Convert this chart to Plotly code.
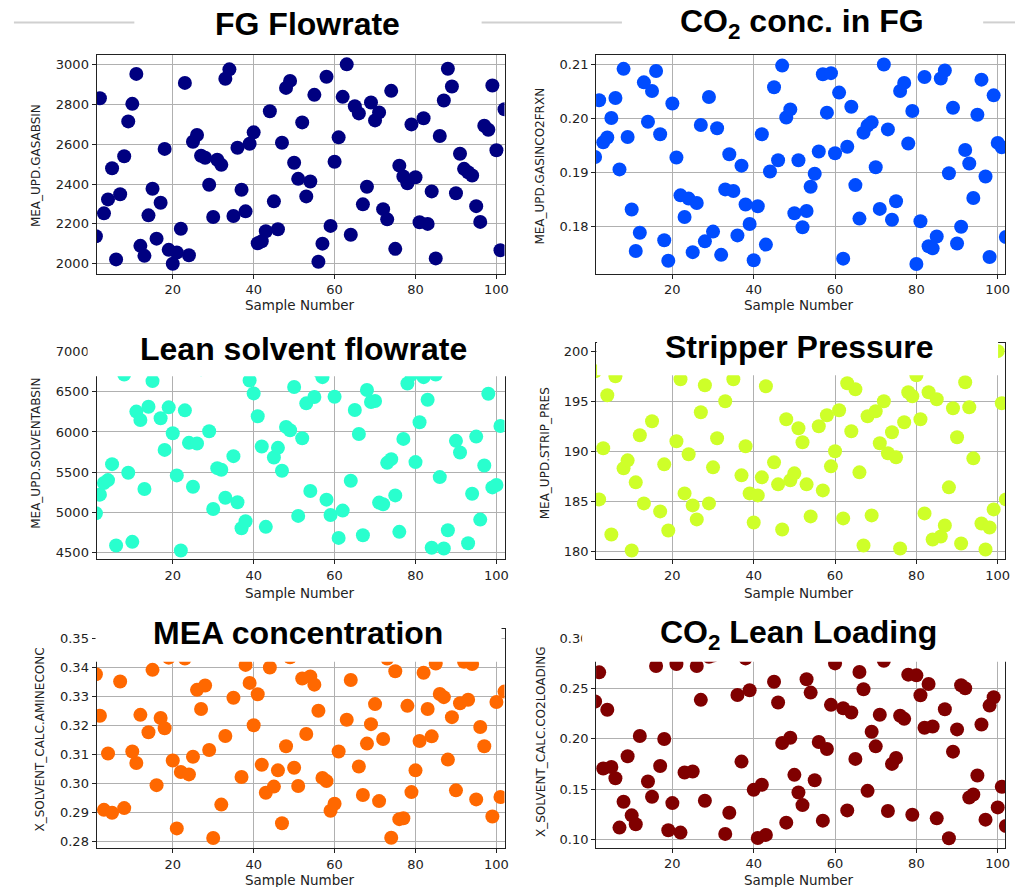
import plotly.graph_objects as go

W, H = 1020, 887

# ---------------- data ----------------
sample_number = list(range(1, 103))

fg_flowrate = [2138, 2830, 2253, 2323, 2479, 2022, 2349, 2539, 2714, 2802, 2952, 2090, 2040, 2243, 2376, 2126, 2306, 2576, 2070, 2000,
               2057, 2176, 2907, 2043, 2612, 2646, 2542, 2532, 2396, 2235, 2522, 2496, 2928, 2975, 2240, 2582, 2371, 2263, 2602, 2659,
               2103, 2113, 2163, 2765, 2313, 2173, 2607, 2882, 2917, 2507, 2426, 2709, 2338, 2413, 2847, 2010, 2101, 2938, 2190, 2512,
               2634, 2837, 3000, 2146, 2790, 2754, 2298, 2386, 2809, 2719, 2759, 2274, 2223, 2867, 2075, 2492, 2438, 2404, 2699, 2434,
               2208, 2730, 2200, 2363, 2027, 2641, 2819, 2978, 2889, 2354, 2552, 2476, 2459, 2443, 2289, 2210, 2692, 2672, 2894, 2569,
               2068, 2775]

co2_in_fg = [0.1929, 0.2034, 0.1956, 0.1965, 0.2001, 0.2038, 0.1906, 0.2092, 0.1966, 0.1832, 0.1755, 0.1789, 0.2067, 0.1994, 0.2051,
             0.2088, 0.1971, 0.1775, 0.1737, 0.2028, 0.1928, 0.1858, 0.1818, 0.1852, 0.1753, 0.1844, 0.1988, 0.1773, 0.2040, 0.1791,
             0.1982, 0.1748, 0.1869, 0.1934, 0.1866, 0.1784, 0.1913, 0.1841, 0.1805, 0.1738, 0.1838, 0.1971, 0.1767, 0.1902, 0.2058,
             0.1923, 0.2098, 0.2002, 0.2017, 0.1825, 0.1923, 0.1799, 0.1829, 0.1874, 0.1898, 0.1939, 0.2082, 0.2011, 0.2084, 0.1936,
             0.2048, 0.1741, 0.1948, 0.2022, 0.1877, 0.1815, 0.1974, 0.1987, 0.1993, 0.1910, 0.1833, 0.2100, 0.1980, 0.1813, 0.1847,
             0.2051, 0.2066, 0.1954, 0.2014, 0.1731, 0.1810, 0.2077, 0.1764, 0.1760, 0.1782, 0.2074, 0.2089, 0.1899, 0.2020, 0.1769,
             0.1800, 0.1942, 0.1917, 0.1853, 0.2007, 0.2072, 0.1893, 0.1744, 0.2043, 0.1955, 0.1947, 0.1781]

lean_solvent_flow = [4991, 5222, 5366, 5403, 5601, 4591, 6900, 6714, 5494, 4636, 6253, 6149, 5292, 6314, 6632, 6850, 6170, 5778, 6306, 5985,
                     5461, 4529, 6269, 5865, 5321, 5857, 6780, 6950, 6009, 5044, 5551, 5531, 5184, 6820, 5700, 5127, 4805, 4892, 6640, 6479,
                     6195, 5820, 4822, 6900, 5683, 5803, 5518, 6063, 6022, 6558, 4958, 5923, 6356, 5267, 6434, 6760, 6681, 5160, 4970, 6438,
                     4685, 5024, 6980, 5395, 6273, 5976, 4718, 6521, 6372, 6385, 5123, 5102, 5617, 5663, 5213, 4760, 5914, 6603, 6714, 5626,
                     6121, 6681, 6401, 4562, 6714, 5440, 4553, 4780, 6870, 5890, 5745, 6790, 4619, 5234, 5943, 4912, 5584, 6475, 5312, 5341,
                     6075, 6930]

stripper_pressure = [198.0, 185.2, 190.3, 195.6, 181.7, 197.5, 199.0, 188.3, 189.1, 180.1, 186.9, 191.6, 184.8, 198.6, 193.0, 199.5, 184.0,
                     188.7, 182.1, 198.4, 191.0, 197.2, 185.8, 189.7, 184.6, 183.2, 193.9, 196.6, 184.8, 188.4, 191.3, 199.2, 195.0, 198.8,
                     197.2, 200.2, 187.6, 190.5, 185.8, 182.9, 185.6, 187.4, 196.5, 199.6, 188.9, 186.7, 182.2, 193.2, 187.1, 187.8, 192.3,
                     190.9, 186.7, 183.5, 198.9, 192.5, 186.1, 193.6, 188.5, 190.0, 194.1, 183.3, 196.8, 192.0, 196.2, 187.9, 180.6, 193.5,
                     183.6, 194.0, 190.8, 195.0, 189.8, 191.9, 189.4, 180.3, 192.9, 195.9, 195.5, 197.6, 193.2, 183.8, 195.9, 181.2, 195.2,
                     181.5, 182.6, 186.4, 194.3, 191.4, 180.8, 196.9, 194.4, 189.3, 199.3, 182.8, 180.2, 182.4, 184.2, 200.0, 194.8, 185.2]

mea_concentration = [0.3377, 0.3234, 0.2910, 0.3104, 0.2900, 0.3470, 0.3352, 0.2916, 0.3490, 0.3111, 0.3071, 0.3237, 0.3455, 0.3177,
                     0.3392, 0.2995, 0.3226, 0.3191, 0.3434, 0.3080, 0.2846, 0.3040, 0.3431, 0.3032, 0.3093, 0.3323, 0.3257, 0.3338,
                     0.3116, 0.2813, 0.3480, 0.2928, 0.3164, 0.3460, 0.3296, 0.3500, 0.3023, 0.3409, 0.3347, 0.3201, 0.3308, 0.3065,
                     0.2969, 0.3400, 0.2990, 0.3046, 0.2864, 0.3129, 0.3435, 0.3055, 0.2992, 0.3362, 0.3171, 0.3369, 0.3341, 0.3251,
                     0.3020, 0.3009, 0.2907, 0.2931, 0.3111, 0.3475, 0.3220, 0.3357, 0.3490, 0.3059, 0.2961, 0.3138, 0.3205, 0.3274,
                     0.2940, 0.3154, 0.3431, 0.2814, 0.3387, 0.2878, 0.2881, 0.3268, 0.2971, 0.3046, 0.3147, 0.3382, 0.3257, 0.3163,
                     0.3414, 0.3309, 0.3298, 0.3083, 0.3229, 0.2977, 0.3277, 0.3420, 0.3289, 0.3412, 0.2946, 0.3195, 0.3129, 0.3465,
                     0.2887, 0.3281, 0.2954, 0.3317]

co2_lean_loading = [0.2371, 0.2662, 0.1704, 0.2289, 0.1720, 0.1608, 0.1116, 0.1373, 0.1826, 0.1238, 0.1149, 0.2028, 0.2950, 0.1575,
                    0.1423, 0.2725, 0.1730, 0.1998, 0.1089, 0.1360, 0.2744, 0.1066, 0.1664, 0.2900, 0.1674, 0.2725, 0.2388, 0.1383,
                    0.2817, 0.2830, 0.3000, 0.2870, 0.1053, 0.1264, 0.2980, 0.2437, 0.1773, 0.2801, 0.2483, 0.1492, 0.1013, 0.1542,
                    0.1043, 0.2920, 0.2569, 0.2361, 0.1958, 0.1165, 0.2011, 0.1641, 0.1466, 0.1340, 0.2593, 0.2460, 0.1588, 0.1968,
                    0.1185, 0.1899, 0.2338, 0.2751, 0.2960, 0.2305, 0.1287, 0.2262, 0.1800, 0.2665, 0.2493, 0.1482, 0.2070, 0.1925,
                    0.2239, 0.2778, 0.1281, 0.1750, 0.1809, 0.2229, 0.2199, 0.2639, 0.1244, 0.2632, 0.2434, 0.2110, 0.2546, 0.2123,
                    0.1208, 0.2890, 0.2295, 0.1010, 0.1872, 0.2094, 0.2533, 0.2503, 0.1416, 0.1446, 0.1634, 0.2143, 0.1195, 0.2331,
                    0.2414, 0.1317, 0.1522, 0.1132]

titles = ["FG Flowrate", "CO<sub>2</sub> conc. in FG", "Lean solvent flowrate",
          "Stripper Pressure", "MEA concentration", "CO<sub>2</sub> Lean Loading"]
y_titles = ["MEA_UPD.GASABSIN", "MEA_UPD.GASINCO2FRXN", "MEA_UPD.SOLVENTABSIN",
            "MEA_UPD.STRIP_PRES", "X_SOLVENT_CALC.AMINECONC", "X_SOLVENT_CALC.CO2LOADING"]
x_title = "Sample Number"
series = [fg_flowrate, co2_in_fg, lean_solvent_flow, stripper_pressure, mea_concentration, co2_lean_loading]

# ---------------- styling / layout ----------------
colors = ["#000080", "#004cff", "#29ffce", "#ceff29", "#ff6800", "#800000"]
# plot boxes in pixels: left, top, right, bottom
boxes = [(97, 52, 507, 272), (599, 52, 1010, 272),
         (97, 346, 507, 559), (599, 341.7, 1010, 559),
         (97, 629, 507, 849.3), (599, 629, 1010, 848.7)]
y_ranges = [(1950, 3048), (0.1713, 0.2118), (4417, 7050), (179.2, 200.8), (0.2777, 0.3532), (0.0914, 0.3092)]
y_dticks = [200, 0.01, 500, 5, 0.01, 0.05]
y_formats = ["d", ".2f", "d", "d", ".2f", ".2f"]
x_ranges = [(1.16, 102.0), (1.24, 101.8)] * 3
title_pos = [(309, 21), (806, 21), (305, 348), (803, 346), (299, 633), (802, 634)]
ytitle_pos = [(36, 163), (543, 164), (36, 452), (548, 452), (40, 740), (543, 742)]
xtitle_pos = [(301, 303), (803, 303), (301, 593), (803, 593), (301, 881), (803, 881)]
# white boxes behind the titles that hide the top of some plots
overlays = [(88, 318, 512, 375), (600, 318, 1003, 374), (96, 605, 504, 661.7), (585, 605, 1015, 661.7)]
deco_lines = [(14, 135), (484, 625), (988, 1020)]

TICK_FONT = dict(family="DejaVu Sans", size=13, color="#222222")
fig = go.Figure()
layout = dict(width=W, height=H, margin=dict(l=0, r=0, t=0, b=0),
              paper_bgcolor="white", plot_bgcolor="white", showlegend=False)
annotations, shapes = [], []

def px(x):
    return x / W

def py(y):
    return 1 - y / H

for i in range(6):
    sfx = "" if i == 0 else str(i + 1)
    l, t, r, b = boxes[i]
    fig.add_trace(go.Scatter(x=sample_number, y=series[i], mode="markers",
                             marker=dict(size=14, color=colors[i], line=dict(width=0)),
                             xaxis="x" + sfx, yaxis="y" + sfx, cliponaxis=True))
    common = dict(showgrid=True, gridcolor="#b0b0b0", gridwidth=1, showline=True, linecolor="#222222",
                  linewidth=1, mirror=True, ticks="outside", ticklen=4, tickcolor="#222222",
                  tickfont=TICK_FONT, zeroline=False)
    layout["xaxis" + sfx] = dict(domain=[px(l), px(r)], range=list(x_ranges[i]), anchor="y" + sfx,
                                 tickmode="linear", tick0=0, dtick=20, **common)
    layout["yaxis" + sfx] = dict(domain=[py(b), py(t)], range=list(y_ranges[i]), anchor="x" + sfx,
                                 tickmode="linear", tick0=0, dtick=y_dticks[i], tickformat=y_formats[i], **common)
    tx, ty = title_pos[i]
    annotations.append(dict(text="<b>%s</b>" % titles[i], x=px(tx), y=py(ty), xref="paper", yref="paper",
                            xanchor="center", yanchor="middle", showarrow=False,
                            font=dict(family="Liberation Sans, Arial", size=32, color="black")))
    ax_, ay_ = ytitle_pos[i]
    annotations.append(dict(text=y_titles[i], x=px(ax_), y=py(ay_), xref="paper", yref="paper", textangle=-90,
                            xanchor="center", yanchor="middle", showarrow=False,
                            font=dict(family="DejaVu Sans", size=12, color="#222222")))
    bx, by = xtitle_pos[i]
    annotations.append(dict(text=x_title, x=px(bx), y=py(by), xref="paper", yref="paper",
                            xanchor="center", yanchor="middle", showarrow=False,
                            font=dict(family="DejaVu Sans", size=13.5, color="#222222")))

for (l, t, r, b) in overlays:
    shapes.append(dict(type="rect", xref="paper", yref="paper", x0=px(l), x1=px(r), y0=py(b), y1=py(t),
                       fillcolor="white", line=dict(width=0), layer="above"))
for (a, c) in deco_lines:
    shapes.append(dict(type="line", xref="paper", yref="paper", x0=px(a), x1=px(c), y0=py(19.5), y1=py(19.5),
                       line=dict(color="#d0d0d0", width=2), layer="above"))

layout["annotations"] = annotations
layout["shapes"] = shapes
fig.update_layout(**layout)
fig.write_html("out.html")
